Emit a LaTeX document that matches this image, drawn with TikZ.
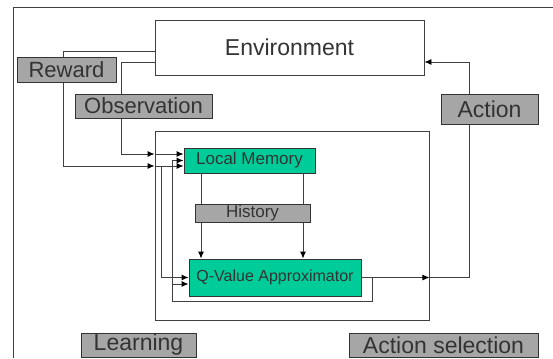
\documentclass[tikz,border=0pt]{standalone}
\usepackage{fontspec}
\setmainfont{Liberation Sans}
\usetikzlibrary{arrows.meta}
\definecolor{qgreen}{RGB}{0,204,153}
\definecolor{lgray}{RGB}{166,166,166}
\definecolor{lline}{RGB}{64,64,64}

\begin{document}
\begin{tikzpicture}[x=1pt,y=-1pt,
  >={Latex[length=7pt,width=6pt,black]},
  wire/.style={lline, line width=0.9pt},
  box/.style={draw=lline, line width=0.9pt, fill=white, inner sep=0pt, text=black!80},
  tag/.style={draw=black!80, line width=0.9pt, fill=lgray, inner sep=0pt, text=black!80},
  unit/.style={draw=black!80, line width=0.9pt, fill=qgreen, inner sep=0pt, text=black!80}]
\useasboundingbox (0,0) rectangle (553,358);
\draw [wire] (553,7) -- (13,7) -- (13,358);

% main blocks
\node [box, minimum width=269pt, minimum height=55pt, font=\fontsize{23}{23}\selectfont] (env) at (289.5,47.5) {Environment};
\node [box, fill=none, minimum width=274pt, minimum height=189pt] (inner) at (292,225.5) {};
\node [unit, minimum width=131pt, minimum height=25pt, font=\fontsize{17}{17}\selectfont] (mem) at (249.5,160.5) {Local Memory};
\node [unit, minimum width=172pt, minimum height=37pt, font=\fontsize{16}{16}\selectfont] (qva) at (275,277.5) {Q-Value Approximator};

% bends
\coordinate (rtop) at (63,51);
\coordinate (rbot) at (63,166);
\coordinate (otop) at (121,62);
\coordinate (obot) at (121,154);
\coordinate (rsplit) at (161,166);
\coordinate (fout) at (372,277.5);
\coordinate (fbot) at (372,301);
\coordinate (fleft) at (172,301);
\coordinate (fmid) at (172,284);
\coordinate (aright) at (469,277.5);
\coordinate (atop) at (469,62);

% reward and observation
\draw [wire] ([yshift=-3.5pt]env.west) -- (rtop) -- (rbot);
\draw [wire,->] (rbot) -- (inner.west |- rbot);
\draw [wire,->] (inner.west |- rbot) -- (mem.west |- rbot);
\draw [wire,->] (rsplit) |- (qva.west);
\draw [wire] ([yshift=-14.5pt]env.west) -- (otop) -- (obot);
\draw [wire,->] (obot) -- (inner.west |- obot);
\draw [wire,->] (inner.west |- obot) -- (mem.west |- obot);

% action
\draw [wire,->] (qva.east) -- (inner.east |- qva.east);
\draw [wire,->] (inner.east |- qva.east) -- (aright) -- (atop) -- (env.east |- atop);

% feedback
\draw [wire] (fout) -- (fbot) -- (fleft) -- (fmid);
\draw [wire,->] (fmid) -- (qva.west |- fmid);
\draw [wire,->] (fmid) |- (mem.west);
\draw [wire,->] ([xshift=-48.5pt]mem.south) -- ([xshift=-48.5pt]mem.south |- qva.north);
\draw [wire,->] ([xshift=53.5pt]mem.south) -- ([xshift=53.5pt]mem.south |- qva.north);

% labels
\node [tag, minimum width=99pt, minimum height=25pt, font=\fontsize{22}{22}\selectfont] (rew) at (66.5,69.5) {Reward};
\node [tag, minimum width=137pt, minimum height=24pt, font=\fontsize{22}{22}\selectfont] (obs) at (143.5,106) {Observation};
\node [tag, minimum width=97pt, minimum height=30pt, font=\fontsize{23}{23}\selectfont] (act) at (489.5,109) {Action};
\node [tag, minimum width=115pt, minimum height=18pt, font=\fontsize{17}{17}\selectfont] (hist) at (252.5,213) {History};
\node [tag, minimum width=115pt, minimum height=24pt, font=\fontsize{23}{23}\selectfont] (learn) at (138.5,345) {Learning};
\node [tag, minimum width=189pt, minimum height=24pt, font=\fontsize{23}{23}\selectfont] (actsel) at (443.5,345) {Action selection};

\end{tikzpicture}
\end{document}
